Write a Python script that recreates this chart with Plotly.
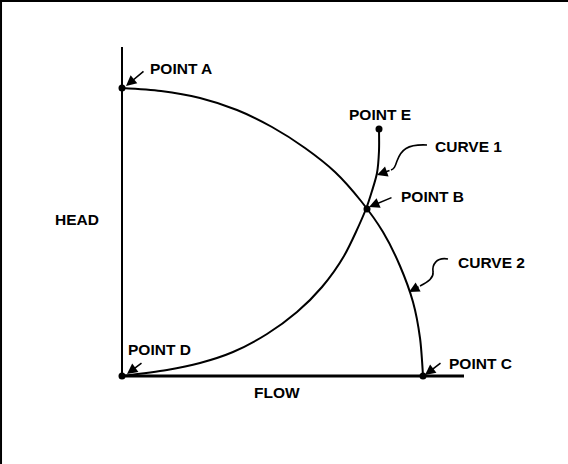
import plotly.graph_objects as go

# Curve 2 (pump curve): Point A -> Point B -> Point C
pump_flow = [0, 39, 78, 115, 150, 183, 213, 239, 261, 278, 291, 298, 301]
pump_head = [288, 285, 278, 266, 249, 228, 204, 175, 144, 110, 74, 38, 0]

# Curve 1 (system curve): Point D -> Point B -> Point E
sys_flow = [0, 45, 78, 111, 145, 175, 200, 222, 244, 250, 255, 257, 257]
sys_head = [0, 6, 13, 24, 42, 64, 89, 120, 167, 185, 203, 225, 247]

# Named points
pt_names = ["A", "B", "C", "D", "E"]
pt_flow = [0, 245, 301, 0, 257]
pt_head = [288, 167, 0, 0, 247]

# Axes extents
y_axis_top = 329
x_axis_end = 342

FONT = dict(family="Liberation Sans, Arial, sans-serif", size=15.5, color="black")

fig = go.Figure()

# axes lines
fig.add_trace(go.Scatter(x=[0, 0], y=[0, y_axis_top], mode="lines",
                         line=dict(color="black", width=2), hoverinfo="skip"))
fig.add_trace(go.Scatter(x=[0, x_axis_end], y=[0, 0], mode="lines",
                         line=dict(color="black", width=3), hoverinfo="skip"))

# curves
fig.add_trace(go.Scatter(x=pump_flow, y=pump_head, mode="lines", line_shape="spline",
                         line=dict(color="black", width=2, smoothing=0.8), name="CURVE 2"))
fig.add_trace(go.Scatter(x=sys_flow, y=sys_head, mode="lines", line_shape="spline",
                         line=dict(color="black", width=2, smoothing=0.8), name="CURVE 1"))

# points
fig.add_trace(go.Scatter(x=pt_flow, y=pt_head, mode="markers", text=pt_names,
                         marker=dict(color="black", size=7), hoverinfo="text"))

annotations = []


def label(text, x, y):
    annotations.append(dict(x=x, y=y, xref="x", yref="y", text="<b>%s</b>" % text,
                            showarrow=False, xanchor="left", yanchor="middle", font=FONT))


def arrow(tail, tip):
    annotations.append(dict(x=tip[0], y=tip[1], ax=tail[0], ay=tail[1],
                            xref="x", yref="y", axref="x", ayref="y", text="",
                            showarrow=True, arrowhead=2, arrowsize=1.3,
                            arrowwidth=1.6, arrowcolor="black"))


label("POINT A", 26, 308)
label("POINT E", 225, 262)
label("CURVE 1", 311, 230)
label("POINT B", 277, 180)
label("CURVE 2", 334, 114)
label("POINT C", 325, 13)
label("POINT D", 4, 27)
label("FLOW", 130, -16)
label("HEAD", -69, 157)

arrow((23, 306), (4, 290))
arrow((271, 179), (247, 169))
arrow((320, 14), (303, 1))
arrow((21, 14), (5, 2))
arrow((269, 206), (255, 201))
arrow((298, 90), (287, 84))

shapes = [
    # wavy leader for CURVE 1
    dict(type="path", xref="x", yref="y",
         path="M 305 231 C 285 232, 279 226, 275 215 C 273 209, 272 207, 269 206",
         line=dict(color="black", width=1.6)),
    # wavy leader for CURVE 2
    dict(type="path", xref="x", yref="y",
         path="M 326 117 C 314 119, 310 111, 311 104 C 312 98, 306 94, 298 90",
         line=dict(color="black", width=1.6)),
    # frame lines (top and left)
    dict(type="line", xref="paper", yref="paper", x0=0, x1=1, y0=0.998, y1=0.998,
         line=dict(color="black", width=2)),
    dict(type="line", xref="paper", yref="paper", x0=0.0018, x1=0.0018, y0=0, y1=1,
         line=dict(color="black", width=2)),
]

fig.update_layout(
    width=568, height=464,
    margin=dict(l=0, r=0, t=0, b=0),
    paper_bgcolor="white", plot_bgcolor="white",
    showlegend=False,
    xaxis=dict(range=[-122, 446], visible=False, fixedrange=True),
    yaxis=dict(range=[-88, 376], visible=False, fixedrange=True),
    annotations=annotations,
    shapes=shapes,
)

fig.write_html("out.html", config={"displayModeBar": False},
               post_script="document.body.style.margin='0';")
